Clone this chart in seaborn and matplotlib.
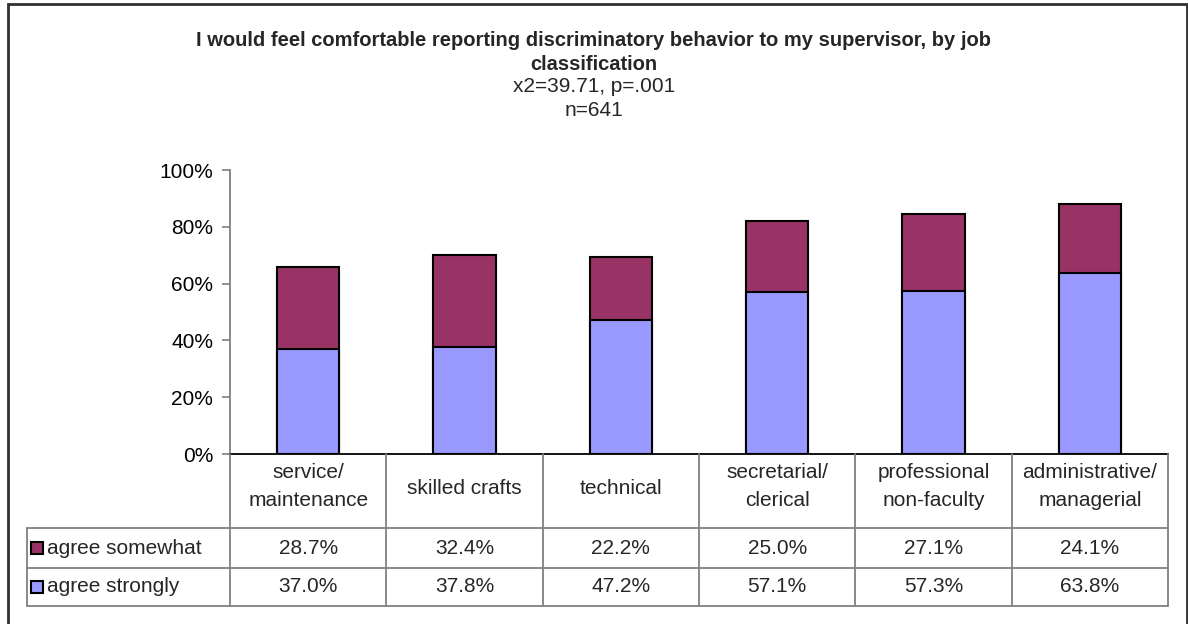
import matplotlib
matplotlib.use("Agg")
import matplotlib.pyplot as plt
from matplotlib.lines import Line2D
from matplotlib.patches import Rectangle
from matplotlib.ticker import PercentFormatter
import pandas as pd
import seaborn as sns

# Data
categories = ["service/\nmaintenance", "skilled crafts", "technical",
              "secretarial/\nclerical", "professional\nnon-faculty",
              "administrative/\nmanagerial"]
agree_somewhat = [28.7, 32.4, 22.2, 25.0, 27.1, 24.1]
agree_strongly = [37.0, 37.8, 47.2, 57.1, 57.3, 63.8]
series_names = ["agree somewhat", "agree strongly"]
series_colors = ["#993366", "#9999FF"]
yticks = [0, 20, 40, 60, 80, 100]

sns.set_theme(style="white")
plt.rcParams["font.family"] = ["Liberation Sans", "DejaVu Sans"]

W, H = 1188, 624
fig = plt.figure(figsize=(W / 100, H / 100), dpi=100)
FS = 15

def fx(px):
    return px / W

def fy(py):
    return 1 - py / H

ax_left, ax_right, ax_top, ax_bottom = 230, 1168, 170, 454
ax = fig.add_axes([fx(ax_left), fy(ax_bottom), fx(ax_right - ax_left),
                   (ax_bottom - ax_top) / H])

df = pd.DataFrame({
    "category": categories,
    "somewhat": agree_somewhat,
    "strongly": agree_strongly,
})
df["total"] = df["somewhat"] + df["strongly"]

# Stacked bars: full total in the upper colour, lower segment drawn over it
sns.barplot(data=df, x="category", y="total", color=series_colors[0],
            saturation=1, width=0.4, edgecolor="black", linewidth=1.5, ax=ax)
sns.barplot(data=df, x="category", y="strongly", color=series_colors[1],
            saturation=1, width=0.4, edgecolor="black", linewidth=1.5, ax=ax)

ax.set_xlim(-0.5, len(categories) - 0.5)
ax.set_ylim(0, 100)
ax.set_yticks(yticks)
ax.yaxis.set_major_formatter(PercentFormatter(decimals=0))
ax.set_xticks([])
ax.set_xlabel("")
ax.set_ylabel("")
for side in ["top", "right"]:
    ax.spines[side].set_visible(False)
ax.spines["left"].set_color("#808080")
ax.spines["left"].set_linewidth(1.3)
ax.spines["bottom"].set_color("black")
ax.spines["bottom"].set_linewidth(1.3)
ax.tick_params(axis="y", which="major", left=True, length=6, width=1.2,
               color="#808080", labelsize=FS, labelcolor="black", pad=6)

# Title block
fig.text(0.5, fy(40), "I would feel comfortable reporting discriminatory behavior to my supervisor, by job",
         ha="center", va="center", fontsize=14.5, fontweight="bold")
fig.text(0.5, fy(64), "classification", ha="center", va="center",
         fontsize=14.5, fontweight="bold")
fig.text(0.5, fy(87), "x2=39.71, p=.001", ha="center", va="center", fontsize=FS)
fig.text(0.5, fy(110), "n=641", ha="center", va="center", fontsize=FS)

# Data table below the axis
col_w = (ax_right - ax_left) / len(categories)
row_hdr_bot, row1_bot, row2_bot = 528, 568, 606
tbl_left = 27
grid_c = "#808080"
lw = 1.3

def hline(x0, x1, y):
    fig.add_artist(Line2D([fx(x0), fx(x1)], [fy(y), fy(y)], color=grid_c, lw=lw))

def vline(x, y0, y1):
    fig.add_artist(Line2D([fx(x), fx(x)], [fy(y0), fy(y1)], color=grid_c, lw=lw))

for i in range(len(categories) + 1):
    vline(ax_left + i * col_w, ax_bottom, row2_bot)
vline(tbl_left, row_hdr_bot, row2_bot)
for y in (row_hdr_bot, row1_bot, row2_bot):
    hline(tbl_left, ax_right, y)

for i, cat in enumerate(categories):
    cx = ax_left + (i + 0.5) * col_w
    hdr_y = 486 if "\n" in cat else 489
    fig.text(fx(cx), fy(hdr_y), cat, ha="center",
             va="center", fontsize=FS, linespacing=1.6)
    fig.text(fx(cx), fy((row_hdr_bot + row1_bot) / 2), f"{agree_somewhat[i]:.1f}%",
             ha="center", va="center", fontsize=FS)
    fig.text(fx(cx), fy((row1_bot + row2_bot) / 2), f"{agree_strongly[i]:.1f}%",
             ha="center", va="center", fontsize=FS)

# Legend keys inside the table's first column
for (name, color, (top, bot)) in zip(series_names, series_colors,
                                     [(row_hdr_bot, row1_bot), (row1_bot, row2_bot)]):
    cy = (top + bot) / 2
    fig.add_artist(Rectangle((fx(31), fy(cy + 6)), fx(12), 12 / H,
                             facecolor=color, edgecolor="black", lw=1.5))
    fig.text(fx(47), fy(cy), name, ha="left", va="center", fontsize=FS)

# Chart frame
fig.add_artist(Rectangle((fx(8), fy(640)), fx(1187 - 8), (640 - 4) / H,
                         fill=False, edgecolor="#303030", lw=2, clip_on=False))

fig.savefig("out.png", dpi=100)
